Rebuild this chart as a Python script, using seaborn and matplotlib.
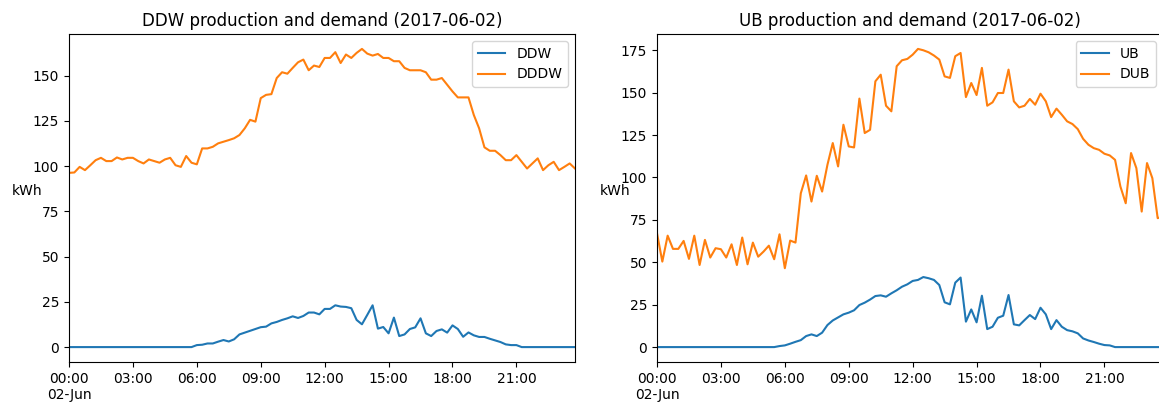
import numpy as np
import pandas as pd
import matplotlib
matplotlib.use("Agg")
import matplotlib.pyplot as plt
import matplotlib.dates as mdates
from matplotlib.ticker import FuncFormatter
import seaborn as sns

# 15-minute readings for 2017-06-02
times = pd.date_range("2017-06-02 00:00", periods=96, freq="15min")

ddw = [0.0] * 24 + [
    1.1, 1.3, 2.0, 2.0, 3.0, 3.9, 3.1, 4.3, 7.0, 8.0, 9.0, 10.0, 11.0, 11.3,
    13.1, 13.9, 15.0, 15.9, 17.0, 16.1, 17.2, 19.1, 19.1, 18.1, 21.1, 21.1,
    23.1, 22.4, 22.2, 21.5, 15.0, 12.6, 17.8, 23.1, 10.2, 11.1, 7.6, 16.3,
    6.1, 7.0, 10.0, 10.9, 15.9, 7.6, 6.1, 8.9, 9.8, 8.0, 12.0, 10.0, 5.7,
    8.1, 6.5, 5.6, 5.6, 4.6, 3.7, 2.8, 1.5, 1.1, 1.1,
] + [0.0] * 11

dddw = [
    96.3, 96.5, 99.6, 97.8, 100.5, 103.3, 104.6, 102.8, 102.8, 104.8, 103.7,
    104.6, 104.6, 102.8, 101.5, 103.7, 102.8, 101.9, 103.7, 104.6, 100.5,
    99.6, 105.6, 101.9, 101.0, 109.8, 109.8, 110.7, 112.6, 113.5, 114.4,
    115.4, 117.2, 120.9, 125.6, 124.6, 137.6, 139.4, 139.8, 148.7, 151.9,
    151.1, 154.3, 157.4, 158.9, 153.0, 155.6, 154.8, 159.8, 159.8, 163.0,
    157.0, 161.7, 159.8, 162.6, 164.8, 162.2, 161.1, 162.0, 159.8, 159.8,
    158.0, 158.0, 154.3, 153.0, 153.0, 153.0, 151.9, 147.8, 147.8, 148.7,
    145.0, 141.3, 138.0, 138.0, 138.0, 128.3, 120.9, 110.4, 108.5, 108.5,
    106.1, 103.3, 103.3, 106.1, 102.4, 98.7, 101.5, 104.3, 97.8, 100.5,
    102.4, 97.8, 99.6, 101.5, 98.7,
]

ub = [0.0] * 23 + [
    0.6, 1.0, 2.0, 3.1, 4.1, 6.5, 7.5, 6.5, 8.5, 13.0, 15.7, 17.5, 19.3, 20.3,
    21.7, 24.8, 26.2, 28.0, 30.1, 30.5, 29.7, 31.7, 33.5, 35.6, 37.0, 39.0,
    39.6, 41.3, 40.6, 39.6, 36.6, 26.4, 25.2, 38.0, 41.0, 15.0, 22.2, 14.6,
    30.3, 10.6, 12.0, 17.3, 18.5, 30.7, 13.4, 12.8, 15.9, 18.9, 16.5, 23.2,
    19.3, 10.6, 15.9, 12.0, 10.0, 9.3, 8.1, 5.1, 3.9, 3.0, 2.0, 1.2, 1.0,
] + [0.0] * 10

dub = [
    67.1, 50.4, 65.7, 57.9, 57.9, 62.6, 52.0, 65.7, 48.4, 63.2, 52.8, 58.3,
    57.7, 52.8, 60.6, 48.4, 64.6, 48.8, 61.6, 53.3, 56.3, 59.8, 51.8, 66.5,
    46.5, 62.8, 61.6, 90.7, 101.2, 85.8, 101.0, 91.7, 107.5, 120.3, 106.5,
    131.1, 118.3, 117.7, 146.5, 126.2, 128.1, 156.7, 160.6, 142.3, 139.0,
    165.6, 169.1, 169.9, 172.4, 175.8, 175.0, 173.8, 171.9, 169.5, 159.6,
    158.7, 171.5, 173.4, 147.4, 155.7, 148.6, 164.6, 142.3, 144.3, 149.8,
    149.8, 163.6, 144.9, 141.3, 142.3, 146.3, 142.9, 149.4, 144.9, 135.6,
    140.6, 137.0, 133.1, 131.5, 128.5, 122.8, 119.3, 117.3, 116.3, 114.0,
    113.0, 110.4, 94.7, 84.8, 114.4, 105.5, 79.9, 108.5, 99.6, 76.0, 77.0,
]

panels = [
    ("DDW production and demand (2017-06-02)", [("DDW", ddw), ("DDDW", dddw)]),
    ("UB production and demand (2017-06-02)", [("UB", ub), ("DUB", dub)]),
]
colors = ["#1f77b4", "#ff7f0e"]

W, H = 1159, 405
fig = plt.figure(figsize=(W / 100, H / 100), dpi=100)
ax_w, ax_h = 506 / W, 328 / H
ax_y0 = (H - 362) / H
axes = [
    fig.add_axes([69 / W, ax_y0, ax_w, ax_h]),
    fig.add_axes([657 / W, ax_y0, ax_w, ax_h]),
]


def time_label(x, pos):
    d = mdates.num2date(x)
    if d.hour == 0 and d.minute == 0:
        return d.strftime("%H:%M\n%d-%b")
    return d.strftime("%H:%M")


for ax, (title, series) in zip(axes, panels):
    for (name, values), color in zip(series, colors):
        sns.lineplot(x=times, y=values, ax=ax, color=color, label=name,
                     linewidth=1.5)
    ax.set_xlim(times[0], times[-1])
    ax.xaxis.set_major_locator(mdates.HourLocator(byhour=range(0, 24, 3)))
    ax.xaxis.set_major_formatter(FuncFormatter(time_label))
    ax.set_xlabel("")
    ax.set_ylabel("kWh", rotation=0)
    ax.set_title(title, fontsize=12)
    ax.legend(loc="upper right")
    for lbl in ax.get_xticklabels():
        lbl.set_rotation(0)
        lbl.set_ha("center")

fig.savefig("out.png", dpi=100)
